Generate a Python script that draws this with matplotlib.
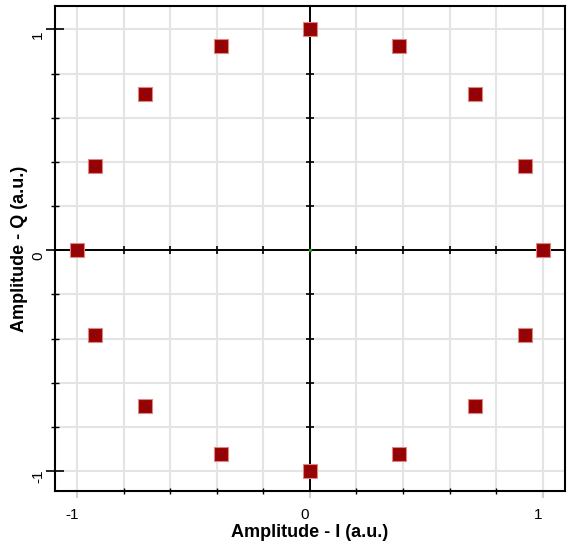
import matplotlib.pyplot as plt
import matplotlib.transforms as mtransforms
from matplotlib.ticker import MultipleLocator, FixedLocator

# constellation points (I, Q)
i_vals = [1.0, 0.924, 0.707, 0.383, 0.0, -0.383, -0.707, -0.924,
          -1.0, -0.924, -0.707, -0.383, 0.0, 0.383, 0.707, 0.924]
q_vals = [0.0, 0.383, 0.707, 0.924, 1.0, 0.924, 0.707, 0.383,
          0.0, -0.383, -0.707, -0.924, -1.0, -0.924, -0.707, -0.383]
tick_vals = [-1, 0, 1]
tick_labels = ["-1", "0", "1"]

plt.rcParams['font.family'] = ['Liberation Sans', 'DejaVu Sans']

fig = plt.figure(figsize=(5.69, 5.46), dpi=100)
ax = fig.add_axes([0.0967, 0.1007, 0.896, 0.888])
ax.set_xlim(-1.095, 1.095)
ax.set_ylim(-1.09, 1.105)

# grid every 0.2
ax.xaxis.set_major_locator(FixedLocator(tick_vals))
ax.yaxis.set_major_locator(FixedLocator(tick_vals))
ax.xaxis.set_minor_locator(MultipleLocator(0.2))
ax.yaxis.set_minor_locator(MultipleLocator(0.2))
ax.grid(which='both', color='#e4e4e4', linewidth=1.5, zorder=0)
ax.set_axisbelow(True)

ax.set_xticklabels(tick_labels)
ax.set_yticklabels(tick_labels, rotation=90, va='center')
ax.tick_params(axis='x', which='major', direction='out', length=5, color='#d0d0d0',
               width=1.5, labelsize=11, pad=7)
ax.tick_params(axis='x', which='minor', direction='inout', length=5, color='black', width=1)
ax.tick_params(axis='y', which='major', direction='inout', length=13, color='black',
               width=1.2, labelsize=11, pad=0.5)
ax.tick_params(axis='y', which='minor', direction='inout', length=6, color='black', width=1)

# nudge tick labels the way the original renders them
for lbl in ax.get_xticklabels():
    lbl.set_transform(lbl.get_transform() + mtransforms.ScaledTranslation(-5 / 100, 0, fig.dpi_scale_trans))
for lbl in ax.get_yticklabels():
    lbl.set_transform(lbl.get_transform() + mtransforms.ScaledTranslation(0, -5 / 100, fig.dpi_scale_trans))

# frame
ax.spines['left'].set_linewidth(1.5)
ax.spines['bottom'].set_linewidth(1.5)
for s in ['top', 'right']:
    ax.spines[s].set_linestyle((0, (1, 1)))
    ax.spines[s].set_linewidth(1.5)

# centre axes with small ticks
ax.axhline(0, color='black', linewidth=1.4, zorder=2)
ax.axvline(0, color='black', linewidth=1.4, zorder=2)
grid_pos = [-1.0, -0.8, -0.6, -0.4, -0.2, 0.2, 0.4, 0.6, 0.8, 1.0]
ax.plot(grid_pos, [0] * len(grid_pos), linestyle='none', marker='|', markersize=6,
        markeredgewidth=1.2, color='black', zorder=2)
ax.plot([0] * len(grid_pos), grid_pos, linestyle='none', marker='_', markersize=6,
        markeredgewidth=1.2, color='black', zorder=2)
ax.plot([0], [0], linestyle='none', marker='s', markersize=1.5, color='#20a020', zorder=3)

# symbols
ax.plot(i_vals, q_vals, linestyle='none', marker='s', markersize=9.4,
        markerfacecolor='#990000', markeredgecolor='#d98888', markeredgewidth=0.8, zorder=4)
ax.plot(i_vals, q_vals, linestyle='none', marker='s', markersize=1.1,
        markeredgewidth=0, color='#2a2aa0', zorder=5)

fig.text(0.545, 0.025, "Amplitude - I (a.u.)", fontsize=13, fontweight='bold',
         ha='center', va='center')
fig.text(0.034, 0.545, "Amplitude - Q (a.u.)", fontsize=13, fontweight='bold',
         ha='center', va='center', rotation=90)

plt.savefig('out.png', dpi=100)
